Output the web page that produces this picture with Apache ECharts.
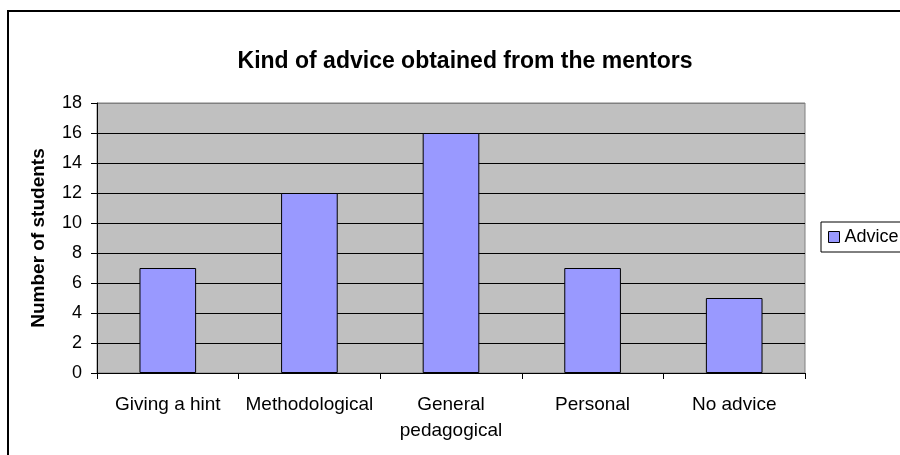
<!DOCTYPE html>
<html>
<head>
<meta charset="utf-8">
<script src="https://cdn.jsdelivr.net/npm/echarts@6/dist/echarts.min.js"></script>
<style>
  html, body { margin: 0; padding: 0; background: #fff; }
  #chart { width: 900px; height: 455px; }
</style>
</head>
<body>
<div id="chart"></div>
<script>
// categories and values
var categories = ['Giving a hint', 'Methodological', 'General\npedagogical', 'Personal', 'No advice'];
var adviceValues = [7, 12, 16, 7, 5];
var seriesName = 'Advice';

var font = 'Liberation Sans, Arial, sans-serif';

var myChart = echarts.init(document.getElementById('chart'));
var option = {
    animation: false,
    backgroundColor: '#fff',
    title: {
        text: 'Kind of advice obtained from the mentors',
        left: 460,
        top: 45,
        textAlign: 'center',
        textStyle: {
            fontFamily: font,
            fontSize: 23,
            fontWeight: 'bold',
            color: '#000'
        }
    },
    legend: {
        data: [seriesName],
        left: 821,
        top: 222,
        orient: 'vertical',
        padding: [6, 8, 6, 7],
        borderColor: '#000',
        borderWidth: 1,
        itemWidth: 11,
        itemHeight: 11,
        icon: 'rect',
        itemStyle: { borderColor: '#000', borderWidth: 1 },
        textStyle: { fontFamily: font, fontSize: 18, color: '#000' }
    },
    grid: {
        left: 97,
        right: 95,
        top: 103,
        bottom: 82,
        show: true,
        backgroundColor: '#C0C0C0',
        borderColor: '#808080',
        borderWidth: 1
    },
    xAxis: {
        type: 'category',
        data: categories,
        axisLine: { lineStyle: { color: '#000', width: 1 } },
        axisTick: { show: true, length: 6, inside: false, lineStyle: { color: '#000' } },
        axisLabel: {
            margin: 19,
            fontFamily: font,
            fontSize: 19,
            color: '#000',
            lineHeight: 26,
            interval: 0
        }
    },
    yAxis: {
        type: 'value',
        min: 0,
        max: 18,
        interval: 2,
        name: 'Number of students',
        nameLocation: 'middle',
        nameGap: 49,
        nameTextStyle: {
            fontFamily: font,
            fontSize: 19,
            fontWeight: 'bold',
            color: '#000'
        },
        axisLine: { show: true, lineStyle: { color: '#000', width: 1 } },
        axisTick: { show: true, length: 6, lineStyle: { color: '#000' } },
        axisLabel: {
            margin: 15,
            fontFamily: font,
            fontSize: 18,
            color: '#000'
        },
        splitLine: {
            show: true,
            lineStyle: {
                color: ['#000', '#000', '#000', '#000', '#000', '#000', '#000', '#000', '#000', '#808080'],
                width: 1
            }
        }
    },
    series: [{
        name: seriesName,
        type: 'bar',
        data: adviceValues,
        barCategoryGap: '60%',
        itemStyle: {
            color: '#9999FF',
            borderColor: '#000',
            borderWidth: 1
        }
    }],
    graphic: [{
        type: 'rect',
        shape: { x: 8, y: 11, width: 1000, height: 1000 },
        style: { fill: null, stroke: '#000', lineWidth: 2 },
        silent: true,
        z: 100
    }]
};
myChart.setOption(option);
</script>
</body>
</html>
